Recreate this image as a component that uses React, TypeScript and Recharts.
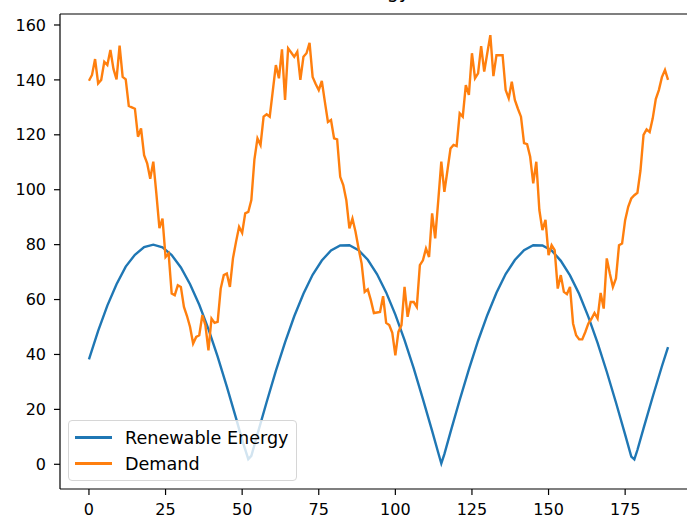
import { LineChart, Line, XAxis, YAxis, Legend, ReferenceLine } from "recharts"

// demand, one value per step (x = 0..189)
const DEMAND = [
  139.7, 141.8, 147.6, 138.7, 140, 146.6, 145.4, 150.9, 144, 140.2,
  152.5, 141.1, 140.2, 130.5, 130, 129.5, 119.3, 122.3, 112.6, 109.6,
  104, 110.2, 98.6, 86, 89.5, 75.5, 76.8, 62.2, 61.6, 65.2,
  64.6, 57.3, 54, 50, 44, 46.4, 47, 54.3, 50.7, 41.5,
  53.1, 51.5, 51.9, 64, 68.9, 69.5, 64.6, 75, 81, 86.5,
  84.3, 91.4, 91.9, 96.2, 111, 118.7, 116.3, 126.6, 127.5, 126.6,
  136, 145.4, 140.6, 151.1, 132.7, 151.5, 150, 148.4, 150.3, 140,
  148.4, 149.7, 153.5, 141.1, 138.5, 136.3, 139.6, 132, 124.7, 125.4,
  118.7, 118.3, 104.7, 101.7, 96.2, 85.9, 89.5, 84.7, 78.6, 73.1,
  62.8, 63.7, 59.8, 55.1, 55.3, 55.5, 61.2, 51.5, 50.7, 47.9,
  39.7, 48.2, 50.7, 64.6, 53.7, 59.1, 59.1, 57.3, 72.5, 74.3,
  78.6, 75.5, 91.4, 82.3, 96, 110.2, 99.2, 107, 115, 116.3,
  115.9, 127.8, 126.6, 138.1, 134.5, 149.7, 140.6, 142.4, 152.3, 143,
  149.7, 156.3, 141.4, 149, 149, 149, 136.3, 133.3, 139.3, 132.7,
  129.5, 126.6, 117, 116.6, 112, 102.3, 110.2, 92.6, 85.3, 89,
  76.2, 79.8, 78, 64, 68.9, 62.8, 62, 64.6, 51.3, 47,
  45.5, 45.5, 48.2, 51.3, 53, 55.1, 53.1, 62.4, 56.7, 75,
  69.5, 64.6, 67.7, 79.8, 80.4, 88.9, 93.8, 96.8, 98, 98.9,
  107, 120, 122, 121, 126, 133, 136.3, 141, 143.6, 140,
]

// renewable energy, read at these x positions
const RENEWABLE_X = [
  0, 3, 6, 9, 12, 15, 18, 21, 24, 27, 30, 33, 36, 39, 42, 45, 48, 50, 52, 53,
  55, 58, 61, 64, 67, 70, 73, 76, 79, 82, 85, 88, 91, 94, 97, 100, 103, 106, 109, 112,
  114, 115, 116, 118, 121, 124, 127, 130, 133, 136, 139, 142, 145, 148, 151, 154, 157, 160, 163, 166,
  169, 172, 175, 177, 178, 179, 181, 184, 187, 189,
]
const RENEWABLE = [
  38.2, 48.6, 57.8, 65.6, 72, 76.3, 79.1, 80, 79, 76.2, 71.7, 65.6, 58.1, 49.2, 39.2, 28.3, 16.8, 8.9, 1.9, 3.1,
  11, 22.7, 34, 44.4, 53.9, 62.1, 69, 74.2, 77.9, 79.7, 79.8, 78, 74.5, 69.3, 62.6, 54.5, 45.2, 34.9, 23.7, 12.2,
  4.2, 0.3, 3.7, 11.7, 23.4, 34.6, 45, 54.3, 62.5, 69.3, 74.4, 78, 79.8, 79.7, 77.9, 74.1, 68.8, 62, 53.7, 44.2,
  33.7, 22.5, 10.8, 2.8, 1.8, 5.2, 13.1, 24.6, 35.7, 42.7,
]

const LEGEND_ORDER = ["Renewable Energy", "Demand"]

const X_TICKS = [0, 25, 50, 75, 100, 125, 150, 175]
const Y_TICKS = [0, 20, 40, 60, 80, 100, 120, 140, 160]

const demandData = DEMAND.map((v, i) => ({ x: i, demand: v }))
const renewableData = RENEWABLE_X.map((x, i) => ({ x, renewable: RENEWABLE[i] }))

const FONT = "'DejaVu Sans', sans-serif"

function LegendBox(props: any) {
  const items = [...(props.payload || [])].sort(
    (a: any, b: any) => LEGEND_ORDER.indexOf(a.value) - LEGEND_ORDER.indexOf(b.value)
  )
  return (
    <div
      style={{
        position: "relative",
        width: 229,
        height: 61,
        boxSizing: "border-box",
        background: "rgba(255,255,255,0.8)",
        border: "1px solid #d6d6d6",
        borderRadius: 4,
        fontFamily: FONT,
        fontSize: 17.6,
        color: "#000",
      }}
    >
      {items.map((it: any, i: number) => (
        <div key={it.value} style={{ position: "absolute", left: 0, top: 6.7 + i * 26, height: 20, width: "100%" }}>
          <div style={{ position: "absolute", left: 6, top: 8.8, width: 37, height: 2.4, background: it.color }} />
          <span style={{ position: "absolute", left: 56, top: 0, lineHeight: "20px", whiteSpace: "nowrap" }}>{it.value}</span>
        </div>
      ))}
    </div>
  )
}

export default function App() {
  return (
    <div style={{ position: "absolute", left: 0, top: 0, width: 687, height: 520, overflow: "hidden", background: "#fff" }}>
      <LineChart width={720} height={520} margin={{ top: 14, right: 23, bottom: 0, left: 0 }}>
        <text x={378.5} y={-2} textAnchor="middle" fontFamily={FONT} fontSize={19.2} fill="#000">
          Renewable Energy vs Demand
        </text>
        <XAxis
          type="number"
          dataKey="x"
          domain={[-9.45, 198.45]}
          allowDataOverflow
          ticks={X_TICKS}
          interval={0}
          height={31}
          tickSize={6}
          tickMargin={9}
          axisLine={{ stroke: "#000", strokeWidth: 1.2 }}
          tickLine={{ stroke: "#000", strokeWidth: 1.2 }}
          tick={{ fill: "#000", fontSize: 16, fontFamily: FONT }}
        />
        <YAxis
          type="number"
          domain={[-9, 164]}
          allowDataOverflow
          ticks={Y_TICKS}
          interval={0}
          width={60}
          tickSize={6}
          tickMargin={8}
          axisLine={{ stroke: "#000", strokeWidth: 1.2 }}
          tickLine={{ stroke: "#000", strokeWidth: 1.2 }}
          tick={{ fill: "#000", fontSize: 16, fontFamily: FONT }}
        />
        <ReferenceLine y={164} stroke="#000" strokeWidth={1.2} />
        <Line
          data={renewableData}
          dataKey="renewable"
          name="Renewable Energy"
          type="linear"
          stroke="#1f77b4"
          strokeWidth={2.4}
          dot={false}
          activeDot={false}
          isAnimationActive={false}
        />
        <Line
          data={demandData}
          dataKey="demand"
          name="Demand"
          type="linear"
          stroke="#ff7f0e"
          strokeWidth={2.4}
          dot={false}
          activeDot={false}
          isAnimationActive={false}
        />
        <Legend
          layout="horizontal"
          verticalAlign="middle"
          align="center"
          content={<LegendBox />}
          wrapperStyle={{ left: 68, top: 420, width: 229, height: 61 }}
        />
      </LineChart>
    </div>
  )
}
